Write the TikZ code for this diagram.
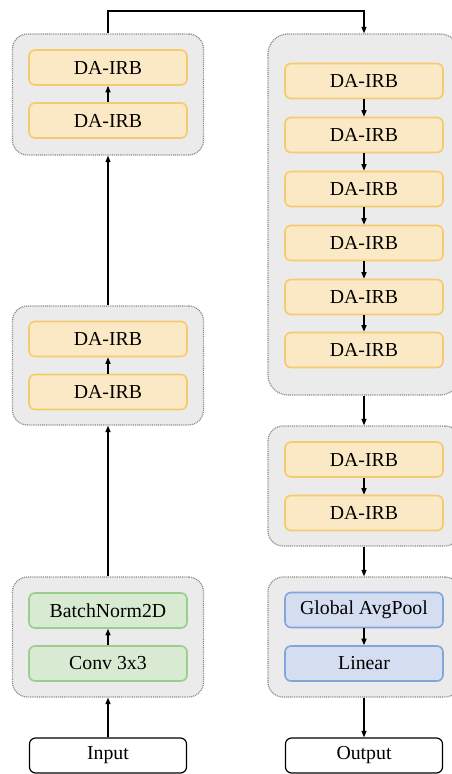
\documentclass[tikz,border=0pt]{standalone}
\usepackage{fontspec}
\setmainfont{Liberation Serif}
\usetikzlibrary{arrows.meta}
\definecolor{grpfill}{HTML}{EBEBEB}
\definecolor{grpdraw}{HTML}{8A8A8A}
\definecolor{orfill}{HTML}{FBE8C5}
\definecolor{ordraw}{HTML}{F6CA6E}
\definecolor{grfill}{HTML}{D9EAD3}
\definecolor{grdraw}{HTML}{9ACD8E}
\definecolor{blfill}{HTML}{D4DEF0}
\definecolor{bldraw}{HTML}{82A6DA}
\tikzset{
  grp/.style={draw=grpdraw, fill=grpfill, line width=1.2pt, dash pattern=on 1pt off 0.9pt, rounded corners=15pt, inner sep=0pt},
  blk/.style={line width=1.6pt, rounded corners=6pt, minimum width=158pt, minimum height=35pt, inner sep=0pt, font=\fontsize{19.8}{22}\selectfont},
  dablk/.style={blk, draw=ordraw, fill=orfill},
  grblk/.style={blk, draw=grdraw, fill=grfill},
  blblk/.style={blk, draw=bldraw, fill=blfill},
  iobox/.style={draw=black, fill=white, line width=1.2pt, rounded corners=6pt, minimum width=157pt, minimum height=35pt, inner sep=0pt, font=\fontsize{19.8}{22}\selectfont},
  arr/.style={draw=black, line width=1.3pt, -{Triangle[length=6.5pt,width=5pt]}},
  ln/.style={draw=black, line width=1.3pt}
}
\begin{document}
\begin{tikzpicture}[x=1pt,y=-1pt]
\clip (0,0) rectangle (452,774);
% left column
\node[grp, minimum width=191pt, minimum height=121pt] (L1) at (108,94.5) {};
\node[grp, minimum width=191pt, minimum height=119pt] (L2) at (108,365.5) {};
\node[grp, minimum width=191pt, minimum height=120pt] (L3) at (108,637) {};
\node[dablk] (L1a) at (108,67.5) {DA-IRB};
\node[dablk] (L1b) at (108,120.5) {DA-IRB};
\node[dablk] (L2a) at (108,339) {DA-IRB};
\node[dablk] (L2b) at (108,392) {DA-IRB};
\node[grblk] (L3a) at (108,610.5) {BatchNorm2D};
\node[grblk] (L3b) at (108,663.5) {Conv 3x3};
\node[iobox] (In) at (108,755.5) {Input};
% right column
\node[grp, rounded corners=20pt, minimum width=192pt, minimum height=361pt] (R1) at (364,214.5) {};
\node[grp, minimum width=192pt, minimum height=120pt] (R2) at (364,486) {};
\node[grp, minimum width=192pt, minimum height=120pt] (R3) at (364,637) {};
\node[dablk] (R1a) at (364,81) {DA-IRB};
\node[dablk] (R1b) at (364,135) {DA-IRB};
\node[dablk] (R1c) at (364,189) {DA-IRB};
\node[dablk] (R1d) at (364,243) {DA-IRB};
\node[dablk] (R1e) at (364,297) {DA-IRB};
\node[dablk] (R1f) at (364,350) {DA-IRB};
\node[dablk] (R2a) at (364,459.5) {DA-IRB};
\node[dablk] (R2b) at (364,513) {DA-IRB};
\node[blblk] (R3a) at (364,610) {Global AvgPool};
\node[blblk] (R3b) at (364,663.5) {Linear};
\node[iobox] (Out) at (364,755.5) {Output};
% left connectors (upward)
\draw[arr] (In.north) -- (L3.south);
\draw[arr] (L3b.north) -- (L3a.south);
\draw[arr] (L3.north) -- (L2.south);
\draw[arr] (L2b.north) -- (L2a.south);
\draw[arr] (L2.north) -- (L1.south);
\draw[arr] (L1b.north) -- (L1a.south);
\coordinate (tl) at (108,11);
\coordinate (tr) at (364,11);
\draw[arr] (L1.north) -- (tl) -- (tr) -- (R1.north);
% right connectors (downward)
\draw[arr] (R1a.south) -- (R1b.north);
\draw[arr] (R1b.south) -- (R1c.north);
\draw[arr] (R1c.south) -- (R1d.north);
\draw[arr] (R1d.south) -- (R1e.north);
\draw[arr] (R1e.south) -- (R1f.north);
\draw[arr] (R1.south) -- (R2.north);
\draw[arr] (R2a.south) -- (R2b.north);
\draw[arr] (R2.south) -- (R3.north);
\draw[arr] (R3a.south) -- (R3b.north);
\draw[arr] (R3.south) -- (Out.north);
\end{tikzpicture}
\end{document}
